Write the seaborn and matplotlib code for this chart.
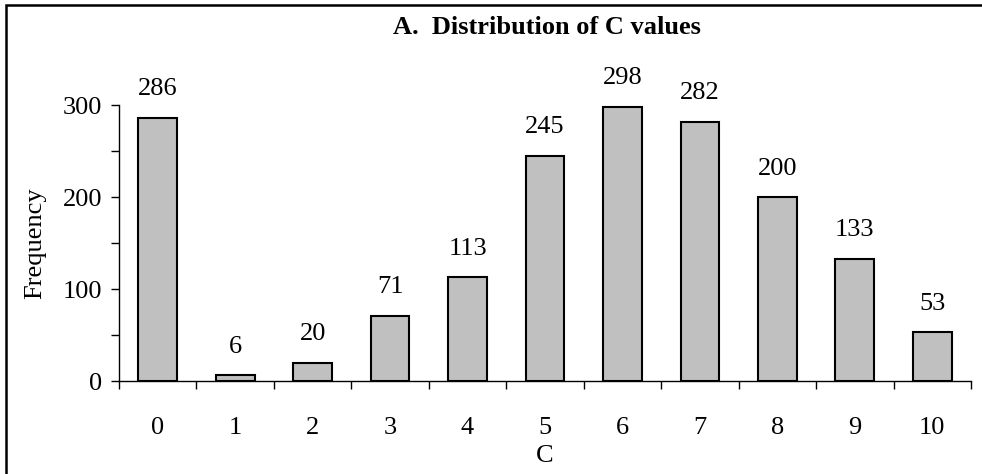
import matplotlib
matplotlib.use("Agg")
import matplotlib.pyplot as plt
import seaborn as sns
import pandas as pd
from matplotlib.patches import Rectangle
from matplotlib.ticker import MultipleLocator

categories = ["0", "1", "2", "3", "4", "5", "6", "7", "8", "9", "10"]
frequency = [286, 6, 20, 71, 113, 245, 298, 282, 200, 133, 53]
y_ticks = [0, 100, 200, 300]

sns.set_style("white")
plt.rcParams["font.family"] = ["Liberation Serif", "DejaVu Serif"]
plt.rcParams.update({"text.color": "black", "axes.labelcolor": "black",
                     "xtick.color": "black", "ytick.color": "black"})

FS = 19

df = pd.DataFrame({"C": categories, "Frequency": frequency})

fig = plt.figure(figsize=(9.82, 4.74), dpi=100)
ax = fig.add_axes([119 / 982, 1 - 381 / 474, (971 - 119) / 982, (381 - 105) / 474])

sns.barplot(data=df, x="C", y="Frequency", order=categories, color="#C0C0C0",
            saturation=1, width=0.5, edgecolor="black", linewidth=1.5, ax=ax)

for i, v in enumerate(frequency):
    ax.text(i, v + 19, str(v), ha="center", va="bottom", fontsize=FS, clip_on=False)

ax.set_xlim(-0.5, len(categories) - 0.5)
ax.set_ylim(0, 300)
ax.set_yticks(y_ticks)
ax.set_yticklabels([str(t) for t in y_ticks], fontsize=FS)
ax.yaxis.set_minor_locator(MultipleLocator(50))
ax.set_xticks(range(len(categories)))
ax.set_xticklabels(categories, fontsize=FS)
ax.set_xticks([i - 0.5 for i in range(len(categories) + 1)], minor=True)

ax.tick_params(axis="x", which="major", length=0, pad=26)
ax.tick_params(axis="x", which="minor", length=6, width=1, direction="out", color="black", bottom=True)
ax.tick_params(axis="y", which="major", length=6, width=1, direction="out", color="black", left=True, pad=6)
ax.tick_params(axis="y", which="minor", length=6, width=1, direction="out", color="black", left=True)

for s in ["top", "right"]:
    ax.spines[s].set_visible(False)
for s in ["left", "bottom"]:
    ax.spines[s].set_color("black")
    ax.spines[s].set_linewidth(1)

ax.set_xlabel("C", fontsize=FS, labelpad=4)
ax.set_ylabel("Frequency", fontsize=FS, labelpad=12)

fig.text(547 / 982, 1 - 28 / 474, "A.  Distribution of C values", ha="center", va="center",
         fontsize=FS, fontweight="bold")

border = Rectangle((6 / 982, -0.05), 1.2, 1 - 5 / 474 + 0.05, transform=fig.transFigure,
                   fill=False, edgecolor="black", linewidth=1.8)
fig.patches.append(border)

fig.savefig("out.png", dpi=100)
